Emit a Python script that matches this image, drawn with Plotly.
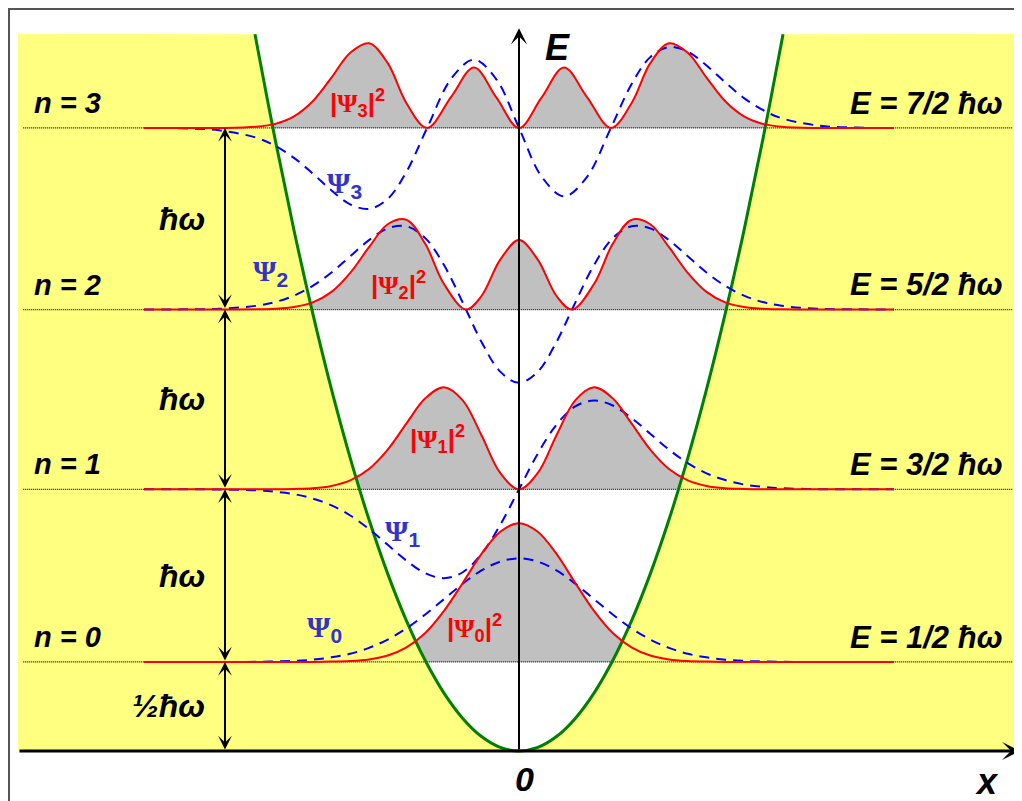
import plotly.graph_objects as go

# ---------------- data ----------------
# energy of each drawn level, in units of hbar*omega
LEVELS = [0.50, 1.47, 2.48, 3.50]
N_LABELS = ["n = 0", "n = 1", "n = 2", "n = 3"]
E_LABELS = ["E = 1/2 ħω", "E = 3/2 ħω", "E = 5/2 ħω", "E = 7/2 ħω"]
GAP_LABELS = ["½ħω", "ħω", "ħω", "ħω"]
PARITY = [1, -1, 1, -1]

# half-profiles (x >= 0) of the drawn curves, heights above their level in hbar*omega
XI_0 = [0, 0.25, 0.5, 0.75, 1, 1.25, 1.5, 1.75, 2, 2.25, 2.5, 2.75, 3, 3.25, 3.5, 4, 4.5, 5]
PSI_0 = [0.582, 0.564, 0.514, 0.440, 0.353, 0.267, 0.189, 0.126, 0.079, 0.046, 0.026, 0.013, 0.006, 0.003, 0.001, 0, 0, 0]
PROB_0 = [0.780, 0.732, 0.607, 0.444, 0.287, 0.163, 0.082, 0.036, 0.014, 0.005, 0.002, 0, 0, 0, 0, 0, 0, 0]

XI_1 = [0, 0.25, 0.5, 0.75, 1, 1.25, 1.5, 1.75, 2, 2.25, 2.5, 2.75, 3, 3.25, 3.5, 4, 4.5, 5]
PSI_1 = [0, 0.200, 0.363, 0.466, 0.499, 0.471, 0.401, 0.312, 0.223, 0.147, 0.090, 0.052, 0.027, 0.014, 0.006, 0.001, 0, 0]
PROB_1 = [0, 0.092, 0.304, 0.500, 0.574, 0.511, 0.370, 0.223, 0.114, 0.050, 0.019, 0.006, 0.002, 0, 0, 0, 0, 0]

XI_2 = [0, 0.25, 0.5, 0.707, 1, 1.25, 1.5, 1.75, 2, 2.25, 2.5, 2.75, 3, 3.25, 3.5, 4, 4.5, 5]
PSI_2 = [-0.412, -0.349, -0.182, 0, 0.250, 0.401, 0.468, 0.456, 0.390, 0.299, 0.208, 0.133, 0.078, 0.042, 0.021, 0.004, 0.001, 0]
PROB_2 = [0.390, 0.280, 0.076, 0, 0.143, 0.369, 0.504, 0.479, 0.350, 0.206, 0.099, 0.040, 0.014, 0.004, 0.001, 0, 0, 0]

XI_3 = [0, 0.3, 0.6, 0.9, 1.225, 1.5, 1.75, 2, 2.25, 2.5, 2.75, 3, 3.25, 3.5, 4, 4.5, 5]
PSI_3 = [0, -0.272, -0.384, -0.279, 0, 0.246, 0.398, 0.455, 0.429, 0.351, 0.256, 0.168, 0.101, 0.055, 0.013, 0.002, 0]
PROB_3 = [0, 0.170, 0.340, 0.178, 0, 0.139, 0.364, 0.476, 0.423, 0.283, 0.150, 0.065, 0.023, 0.007, 0, 0, 0]

# potential well (half profile)
PAR_XI = [0, 0.25, 0.5, 0.75, 1, 1.25, 1.5, 1.75, 2, 2.25, 2.5, 2.75, 3, 3.25, 3.5, 3.52]
PAR_V = [0, 0.020, 0.081, 0.183, 0.325, 0.508, 0.731, 0.995, 1.300, 1.645, 2.031, 2.458, 2.925, 3.433, 3.981, 4.027]

XI = [XI_0, XI_1, XI_2, XI_3]
PSI = [PSI_0, PSI_1, PSI_2, PSI_3]
PROB = [PROB_0, PROB_1, PROB_2, PROB_3]

# ---------------- styling / layout constants ----------------
YELLOW = "#ffff80"
GREY = "#c0c0c0"
RED = "#ff0000"
BLUE = "#0000ff"
LBLUE = "#3333cc"
GREEN = "#008000"
SANS = "Liberation Sans"
SERIF = "Liberation Serif"

X_RANGE = [-6.813, 6.813]
Y_RANGE = [-0.326, 4.174]
Y_TOP = 4.03
X_LEFT = -6.68
X_RIGHT = 7.0
ARROW_X = -3.92


def mirror(xs, vs, parity):
    fx = [-x for x in reversed(xs[1:])] + list(xs)
    fv = [parity * v for v in reversed(vs[1:])] + list(vs)
    return fx, fv


fig = go.Figure()

# grey probability fills (drawn first, covered by yellow outside the well)
for n in range(4):
    fx, fv = mirror(XI[n], PROB[n], 1)
    fig.add_trace(go.Scatter(x=fx, y=[LEVELS[n] + v for v in fv], mode="lines",
                             line=dict(width=0, shape="spline", color=GREY),
                             fill="toself", fillcolor=GREY, hoverinfo="skip"))

# yellow classically forbidden region
px_l = [-x for x in PAR_XI]
fig.add_trace(go.Scatter(x=[X_LEFT, X_LEFT] + px_l, y=[Y_TOP, 0] + PAR_V, mode="lines",
                         line=dict(width=0), fill="toself", fillcolor=YELLOW, hoverinfo="skip"))
fig.add_trace(go.Scatter(x=[X_RIGHT, X_RIGHT] + PAR_XI, y=[Y_TOP, 0] + PAR_V, mode="lines",
                         line=dict(width=0), fill="toself", fillcolor=YELLOW, hoverinfo="skip"))

# dotted level lines
for n in range(4):
    fig.add_trace(go.Scatter(x=[-6.61, 6.59], y=[LEVELS[n], LEVELS[n]], mode="lines",
                             line=dict(color="#111111", width=1.3, dash="1px,1px"),
                             hoverinfo="skip"))

# parabola
fx, fv = mirror(PAR_XI, PAR_V, 1)
fig.add_trace(go.Scatter(x=fx, y=fv, mode="lines",
                         line=dict(color=GREEN, width=3, shape="spline"), hoverinfo="skip"))

# wavefunctions and densities
for n in range(4):
    fx, fv = mirror(XI[n], PSI[n], PARITY[n])
    fig.add_trace(go.Scatter(x=fx, y=[LEVELS[n] + v for v in fv], mode="lines",
                             line=dict(color=BLUE, width=2, dash="10px,7px", shape="spline"),
                             hoverinfo="skip"))
for n in range(4):
    fx, fv = mirror(XI[n], PROB[n], 1)
    fig.add_trace(go.Scatter(x=fx, y=[LEVELS[n] + v for v in fv], mode="lines",
                             line=dict(color=RED, width=2, shape="spline"), hoverinfo="skip"))

ann = []


def text(x, y, t, size, color="black", xanchor="center", family=SANS):
    ann.append(dict(x=x, y=y, xref="x", yref="y", text=t, showarrow=False,
                    xanchor=xanchor, yanchor="middle",
                    font=dict(family=family, size=size, color=color)))


def arrow(x0, y0, x1, y1, width=2, size=1.15, both=False):
    d = dict(x=x1, y=y1, ax=x0, ay=y0, xref="x", yref="y", axref="x", ayref="y",
             text="", showarrow=True, arrowhead=3, arrowsize=size, arrowwidth=width,
             arrowcolor="black", standoff=0, startstandoff=0)
    if both:
        d.update(arrowside="end+start", startarrowhead=3, startarrowsize=size)
    ann.append(d)


# axes
arrow(0, 0, 0, 4.06, width=2, size=1.35)
arrow(X_LEFT, 0, 6.68, 0, width=3, size=1.0)

# spacing arrows
bounds = [0] + LEVELS
for i in range(4):
    arrow(ARROW_X, bounds[i], ARROW_X, bounds[i + 1], width=2, size=1.15, both=True)
    text(-4.16, (bounds[i] + bounds[i + 1]) / 2, "<b><i>%s</i></b>" % GAP_LABELS[i], 32,
         xanchor="right")

for n in range(4):
    text(-6.49, LEVELS[n] + 0.14, "<b><i>%s</i></b>" % N_LABELS[n], 29, xanchor="left")
    text(6.48, LEVELS[n] + 0.14, "<b><i>%s</i></b>" % E_LABELS[n], 31, xanchor="right")

psi_pos = [(-2.59, 0.69), (-1.55, 1.23), (-3.31, 2.69), (-2.32, 3.18)]
prob_pos = [(-0.60, 0.69), (-1.09, 1.75), (-1.60, 2.62), (-2.15, 3.64)]
for n in range(4):
    text(psi_pos[n][0], psi_pos[n][1],
         '<b><span style="font-family:%s">Ψ</span><sub>%d</sub></b>' % (SERIF, n), 30, LBLUE)
    text(prob_pos[n][0], prob_pos[n][1],
         '<b>|<span style="font-family:%s">Ψ</span><sub>%d</sub>|<sup>2</sup></b>' % (SERIF, n),
         26, RED)

text(0.51, 3.95, "<b><i>E</i></b>", 36)
text(6.24, -0.17, "<b><i>x</i></b>", 36)
text(0.07, -0.16, "<b><i>0</i></b>", 34)

fig.update_layout(
    width=1022, height=801,
    margin=dict(l=0, r=0, t=0, b=0),
    paper_bgcolor="white", plot_bgcolor="white",
    showlegend=False,
    xaxis=dict(range=X_RANGE, visible=False, fixedrange=True),
    yaxis=dict(range=Y_RANGE, visible=False, fixedrange=True),
    annotations=ann,
    shapes=[dict(type="rect", xref="paper", yref="paper", x0=0, y0=0, x1=1, y1=1,
                 line=dict(color="#555555", width=4), layer="above")],
)

fig.write_html("out.html")
